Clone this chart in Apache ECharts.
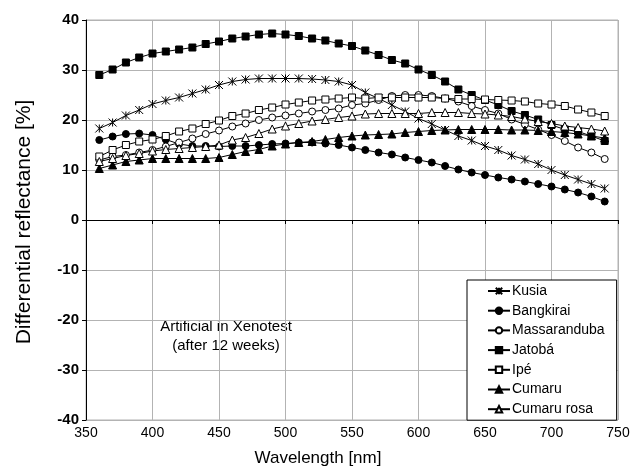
<!DOCTYPE html>
<html>
<head>
<meta charset="utf-8">
<script src="https://cdn.jsdelivr.net/npm/echarts@6/dist/echarts.min.js"></script>
<style>
html,body{margin:0;padding:0;background:#fff;}
#chart{width:644px;height:470px;}
</style>
</head>
<body>
<div id="chart"></div>
<script>
var wavelengths = [360,370,380,390,400,410,420,430,440,450,460,470,480,490,500,510,520,530,540,550,560,570,580,590,600,610,620,630,640,650,660,670,680,690,700,710,720,730,740];
var kusia = [18.3,19.5,20.9,22.0,23.2,23.9,24.5,25.3,26.1,27.0, 27.7,28.1,28.3,28.3,28.3,28.3,28.2,28.0,27.7,27.0, 25.5,24.3,23.0,21.7,20.3,19.2,18.0,16.8,15.9,14.8, 14.0,12.9,12.1,11.2,10.0,9.0,8.1,7.2,6.3];
var bangkirai = [16.0,16.7,17.2,17.3,17.0,16.1,15.2,14.8,14.8,14.7, 14.8,14.8,15.0,15.2,15.3,15.5,15.5,15.3,15.0,14.5, 14.0,13.5,13.1,12.5,12.0,11.5,10.8,10.1,9.5,9.0, 8.5,8.1,7.7,7.2,6.7,6.1,5.5,4.7,3.7];
var massaranduba = [12.0,12.7,13.0,13.5,14.0,14.7,15.5,16.3,17.2,17.9, 18.7,19.3,20.0,20.5,20.9,21.3,21.7,22.0,22.3,23.0, 23.3,24.0,24.8,25.0,25.0,24.8,24.3,23.7,22.8,22.0, 21.3,20.1,19.1,18.1,17.0,15.8,14.5,13.5,12.2];
var jatoba = [29.0,30.1,31.5,32.5,33.3,33.7,34.1,34.5,35.2,35.7, 36.3,36.7,37.1,37.3,37.1,36.8,36.3,35.9,35.3,34.8, 33.9,33.0,32.0,31.3,30.1,29.0,27.7,26.1,25.0,24.0, 23.0,21.8,21.0,20.1,19.0,18.1,17.7,16.8,15.8];
var ipe = [12.7,14.0,15.0,15.7,16.1,16.8,17.7,18.3,19.2,19.9, 20.8,21.3,22.0,22.5,23.1,23.5,23.9,24.1,24.3,24.5, 24.3,24.5,24.5,24.5,24.5,24.5,24.3,24.2,24.2,24.1, 24.0,23.9,23.7,23.3,23.1,22.8,22.1,21.5,20.8];
var cumaru = [10.3,11.0,11.7,12.0,12.3,12.3,12.3,12.3,12.3,12.5, 13.1,13.7,14.1,14.8,15.2,15.5,15.7,16.1,16.5,16.8, 17.0,17.1,17.2,17.5,17.7,17.9,18.0,18.1,18.1,18.1, 18.1,18.0,18.0,17.9,17.7,17.5,17.2,16.8,16.4];
var cumaruRosa = [11.7,12.3,12.9,13.3,13.8,14.1,14.3,14.5,14.7,15.0, 16.0,16.5,17.3,18.2,18.8,19.3,19.8,20.1,20.5,20.8, 21.2,21.3,21.3,21.3,21.3,21.5,21.5,21.5,21.3,21.2, 21.0,20.7,20.2,19.7,19.3,18.8,18.5,18.2,17.8];
var seriesNames = ['Kusia','Bangkirai','Massaranduba','Jatobá','Ipé','Cumaru','Cumaru rosa'];
var xTicks = [350,400,450,500,550,600,650,700,750];
var yTicks = [-40,-30,-20,-10,0,10,20,30,40];

function pairs(arr){ return wavelengths.map(function(w,i){ return [w, arr[i]]; }); }

var FONT = '"Liberation Sans", Arial, sans-serif';
var starPath = 'path://M0,0L10,10M0,10L10,0M5,0L5,10';
var defs = [
  {data:kusia, symbol:starPath, size:8, fill:'#000'},
  {data:bangkirai, symbol:'circle', size:7, fill:'#000'},
  {data:massaranduba, symbol:'circle', size:7, fill:'#fff'},
  {data:jatoba, symbol:'rect', size:7, fill:'#000'},
  {data:ipe, symbol:'rect', size:7, fill:'#fff'},
  {data:cumaru, symbol:'triangle', size:8, fill:'#000'},
  {data:cumaruRosa, symbol:'triangle', size:8, fill:'#fff'}
];

var series = defs.map(function(d, i){
  return {
    name: seriesNames[i],
    type: 'line',
    data: pairs(d.data),
    symbol: d.symbol,
    symbolSize: d.size,
    showAllSymbol: true,
    lineStyle: {color:'#000', width:1},
    itemStyle: {color:d.fill, borderColor:'#000', borderWidth:1},
    emphasis: {disabled:true},
    animation: false,
    z: 3
  };
});

var chart = echarts.init(document.getElementById('chart'), null, {renderer:'canvas'});
chart.setOption({
  backgroundColor: '#fff',
  animation: false,
  textStyle: {fontFamily: FONT},
  grid: {left:86, right:26, top:20, bottom:50, show:true, borderColor:'#b3b3b3', borderWidth:1, backgroundColor:'transparent'},
  legend: {
    orient: 'vertical',
    left: 467, top: 280,
    data: seriesNames,
    backgroundColor: '#fff',
    borderColor: '#000',
    borderWidth: 1,
    borderRadius: 0,
    padding: [4, 12, 4, 20],
    itemWidth: 22,
    itemHeight: 8,
    itemGap: 5.7,
    textStyle: {fontFamily: FONT, fontSize: 14, color:'#000', padding:[0,0,0,-3]},
    selectedMode: false
  },
  xAxis: {
    type: 'value',
    min: 350, max: 750, interval: 50,
    axisLine: {show:true, onZero:true, lineStyle:{color:'#000', width:1}},
    axisTick: {show:true, length:4, lineStyle:{color:'#000'}},
    axisLabel: {fontFamily: FONT, fontSize:14, color:'#000', margin:6},
    splitLine: {show:true, lineStyle:{color:'#b3b3b3', width:1}}
  },
  yAxis: {
    type: 'value',
    min: -40, max: 40, interval: 10,
    axisLine: {show:true, lineStyle:{color:'#000', width:1}},
    axisTick: {show:true, length:4, lineStyle:{color:'#000'}},
    axisLabel: {fontFamily: FONT, fontSize:15, fontWeight:'bold', color:'#000', margin:7},
    splitLine: {show:true, lineStyle:{color:'#b3b3b3', width:1}}
  },
  graphic: [
    {type:'text', x:318, y:458, style:{text:'Wavelength [nm]', fontFamily:FONT, fontSize:17, fill:'#000', align:'center', verticalAlign:'middle'}},
    {type:'text', x:24, y:222, rotation:Math.PI/2, style:{text:'Differential reflectance [%]', fontFamily:FONT, fontSize:21, fill:'#000', align:'center', verticalAlign:'middle'}},
    {type:'text', x:226, y:336, style:{text:'Artificial in Xenotest\n(after 12 weeks)', fontFamily:FONT, fontSize:15, lineHeight:19, fill:'#000', align:'center', verticalAlign:'middle'}}
  ],
  series: series
});
</script>
</body>
</html>
